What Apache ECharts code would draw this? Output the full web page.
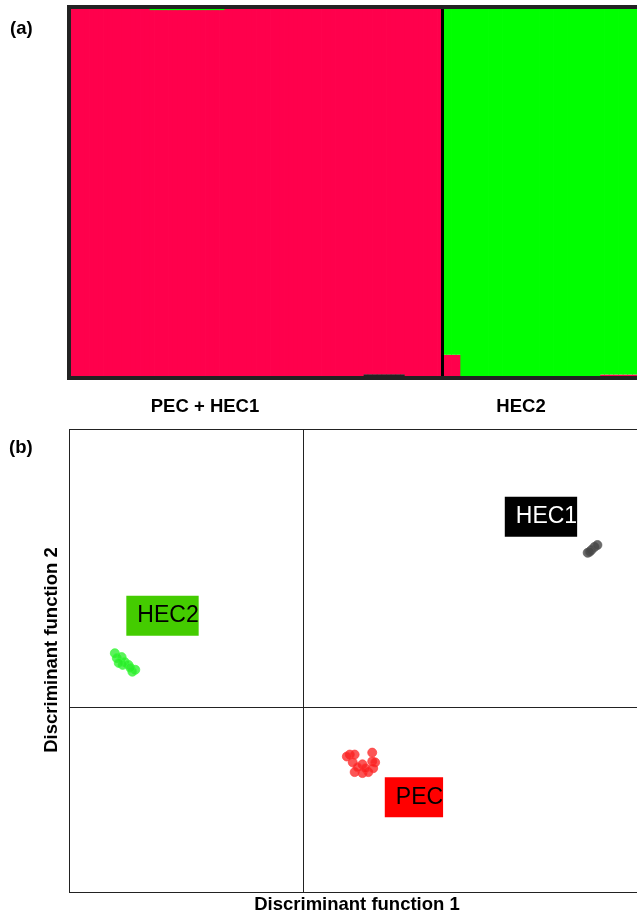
<!DOCTYPE html>
<html><head><meta charset="utf-8">
<script src="https://cdn.jsdelivr.net/npm/echarts@6/dist/echarts.min.js"></script>
<style>html,body{margin:0;padding:0;background:#fff}#c{width:637px;height:919px}</style>
</head><body><div id="c"></div>
<script>
// ---------- Panel (a): STRUCTURE membership, runs of individuals [count, darkQ, redQ, greenQ]
const groupNames = ['PEC + HEC1', 'HEC2'];
const group1Runs = [[17, 0, 1, 0], [16, 0, 0.997, 0.003], [30, 0, 1, 0], [9, 0.005, 0.995, 0], [8, 0, 1, 0]];
const group2Runs = [[4, 0, 0.058, 0.942], [30, 0, 0, 1], [8, 0, 0.004, 0.996]];
const clusterColors = ['#222222', '#ff004c', '#00ff00'];

// ---------- Panel (b): DAPC scores [DF1, DF2]
const hec2Points = [[-19.3, 5.5], [-19.1, 5.0], [-18.6, 5.1], [-18.3, 4.6], [-17.9, 4.3], [-17.2, 3.8], [-17.5, 3.6], [-18.5, 4.3], [-18.9, 4.5], [-17.7, 4.0]];
const hec1Points = [[29.9, 16.4], [29.6, 16.1], [29.2, 15.8], [29.4, 15.9], [30.2, 16.6]];
const pecPoints = [[4.8, -4.9], [5.3, -4.9], [7.1, -4.7], [5.1, -5.7], [6.1, -5.9], [7.1, -5.6], [7.4, -5.7], [5.3, -6.7], [6.1, -6.8], [6.7, -6.7], [7.2, -6.3], [5.6, -6.2], [6.4, -6.3], [4.5, -5.1]];
const groupLabels = [['HEC2', -14.41, 9.33], ['HEC1', 24.41, 19.49], ['PEC', 11.38, -9.28]];
const df1Range = [-24, 34.26];
const df2Range = [-19, 28.5];

// expand runs into per-individual values
function expand(runs) {
  const out = [[], [], []];
  runs.forEach(r => { for (let i = 0; i < r[0]; i++) { out[0].push(r[1]); out[1].push(r[2]); out[2].push(r[3]); } });
  return out;
}
const g1 = expand(group1Runs), g2 = expand(group2Runs);
const nG1 = g1[0].length;
const qDark = g1[0].concat(g2[0]), qRed = g1[1].concat(g2[1]), qGreen = g1[2].concat(g2[2]);
const N = qDark.length;
const inds = qDark.map((_, i) => 'ind' + (i + 1));

const FONT = '"Liberation Sans", Arial, Helvetica, sans-serif';
const chart = echarts.init(document.getElementById('c'), null, { renderer: 'canvas' });

const hiddenAxis = { show: false, splitLine: { show: false } };
const lineStyleB = { color: '#222', width: 1, type: 'solid' };
const option = {
  animation: false,
  backgroundColor: '#fff',
  grid: [
    { left: 71, top: 9, right: 0, height: 367, show: false },
    { left: 69, top: 429, right: 0, height: 463, show: false }
  ],
  xAxis: [
    Object.assign({ type: 'category', data: inds, gridIndex: 0, boundaryGap: true }, hiddenAxis),
    Object.assign({ type: 'value', gridIndex: 0, min: 0, max: N }, hiddenAxis),
    Object.assign({ type: 'value', gridIndex: 1, min: df1Range[0], max: df1Range[1] }, hiddenAxis)
  ],
  yAxis: [
    Object.assign({ type: 'value', gridIndex: 0, min: 0, max: 1 }, hiddenAxis),
    Object.assign({ type: 'value', gridIndex: 0, min: 0, max: 1 }, hiddenAxis),
    Object.assign({ type: 'value', gridIndex: 1, min: df2Range[0], max: df2Range[1] }, hiddenAxis)
  ],
  series: [
    { type: 'bar', stack: 'q', xAxisIndex: 0, yAxisIndex: 0, data: qDark, barWidth: 5.4, itemStyle: { color: clusterColors[0] } },
    { type: 'bar', stack: 'q', xAxisIndex: 0, yAxisIndex: 0, data: qRed, barWidth: 5.4, itemStyle: { color: clusterColors[1] } },
    { type: 'bar', stack: 'q', xAxisIndex: 0, yAxisIndex: 0, data: qGreen, barWidth: 5.4, itemStyle: { color: clusterColors[2] } },
    { type: 'line', xAxisIndex: 1, yAxisIndex: 1, data: [], silent: true,
      markLine: { symbol: 'none', silent: true, label: { show: false },
        lineStyle: { color: '#000', width: 3, type: 'solid' }, data: [{ xAxis: nG1 }] } },
    { type: 'scatter', xAxisIndex: 2, yAxisIndex: 2, data: hec2Points, symbolSize: 9,
      itemStyle: { opacity: 1, color: 'rgba(40,235,40,0.75)', borderColor: 'rgba(60,255,60,0.7)', borderWidth: 1 },
      markLine: { symbol: 'none', silent: true, label: { show: false }, lineStyle: lineStyleB,
        data: [{ xAxis: 0 }, { yAxis: 0 }, { xAxis: df1Range[0] }, { yAxis: df2Range[0] }, { yAxis: df2Range[1] }] } },
    { type: 'scatter', xAxisIndex: 2, yAxisIndex: 2, data: pecPoints, symbolSize: 9,
      itemStyle: { opacity: 1, color: 'rgba(250,30,30,0.75)', borderColor: 'rgba(255,60,60,0.7)', borderWidth: 1 } },
    { type: 'scatter', xAxisIndex: 2, yAxisIndex: 2, data: hec1Points, symbolSize: 9,
      itemStyle: { opacity: 1, color: 'rgba(70,70,70,0.8)', borderColor: 'rgba(90,90,90,0.7)', borderWidth: 1 } },
    { type: 'scatter', xAxisIndex: 2, yAxisIndex: 2, symbolSize: 0, z: 5, itemStyle: { opacity: 1 },
      data: groupLabels.map(g => ({ name: g[0], value: [g[1], g[2]],
        label: { backgroundColor: g[0] === 'HEC2' ? '#44cc00' : (g[0] === 'HEC1' ? '#000000' : '#ff0000'),
                 color: g[0] === 'HEC1' ? '#ffffff' : '#000000' } })),
      label: { show: true, position: 'inside', formatter: '{b}', fontSize: 23, fontFamily: FONT,
               lineHeight: 24, padding: [8, 0, 8, 11], opacity: 1 } }
  ],
  graphic: [
    { type: 'rect', z: 100, shape: { x: 69, y: 7, width: 620, height: 371 }, style: { fill: 'none', stroke: '#222', lineWidth: 4 } },
    { type: 'text', left: 10, top: 19, style: { text: '(a)', font: 'bold 18.5px ' + FONT, fill: '#000' } },
    { type: 'text', left: 9, top: 438, style: { text: '(b)', font: 'bold 18.5px ' + FONT, fill: '#000' } },
    { type: 'text', x: 205, y: 407, style: { text: groupNames[0], font: 'bold 18.5px ' + FONT, fill: '#000', align: 'center', verticalAlign: 'middle' } },
    { type: 'text', x: 521, y: 407, style: { text: groupNames[1], font: 'bold 18.5px ' + FONT, fill: '#000', align: 'center', verticalAlign: 'middle' } },
    { type: 'text', x: 357, y: 905, style: { text: 'Discriminant function 1', font: 'bold 18.5px ' + FONT, fill: '#000', align: 'center', verticalAlign: 'middle' } },
    { type: 'text', x: 52, y: 650, rotation: Math.PI / 2, style: { text: 'Discriminant function 2', font: 'bold 18.5px ' + FONT, fill: '#000', align: 'center', verticalAlign: 'middle' } }
  ]
};
chart.setOption(option);
</script>
</body></html>
